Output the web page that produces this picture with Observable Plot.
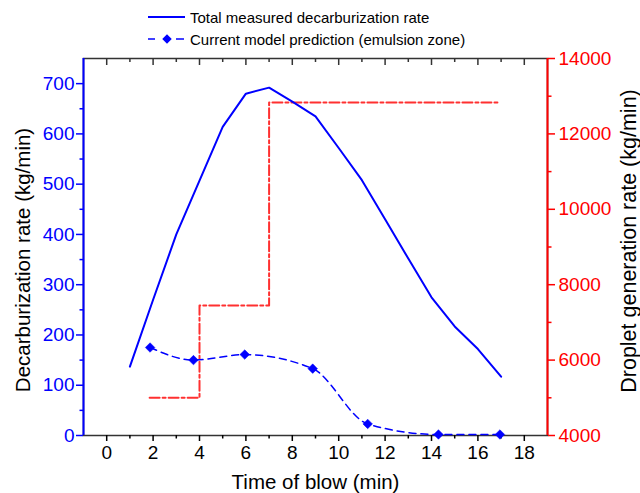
<!DOCTYPE html>
<html><head><meta charset="utf-8">
<script src="https://cdn.jsdelivr.net/npm/d3@7"></script>
<script src="https://cdn.jsdelivr.net/npm/@observablehq/plot@0.6"></script>
<style>
body{margin:0;background:#fff;font-family:"Liberation Sans",Arial,sans-serif;}
#wrap{position:relative;width:640px;height:493px;overflow:hidden;}
#legend{position:absolute;left:0;top:0;}
</style></head><body>
<div id="wrap"><div id="chart"></div><svg id="legend" width="640" height="55"></svg></div>
<script>
// ---- data ----
const measuredTime = [1,2,3,4,5,6,7,8,9,10,11,12,13,14,15,16,17];
const measuredRate = [137,270,400,507,614,680,692,664,635,572,508,430,352,275,217,172,117];
const modelTime = [1.87,3.74,5.95,8.88,11.25,14.3,16.95];
const modelRate = [175,150,161,133,23,2,2];
const dropletTime = [1.85,4,7,16.95];
const dropletRate = [5000,7450,12830,12830];

const xDomain = [-1,19];
const yLeftDomain = [0,750];
const yRightDomain = [4000,14000];
const xTicks = [0,2,4,6,8,10,12,14,16,18];
const xMinorTicks = [1,3,5,7,9,11,13,15,17];
const yLeftTicks = [0,100,200,300,400,500,600,700];
const yLeftMinorTicks = [50,150,250,350,450,550,650];
const yRightTicks = [4000,6000,8000,10000,12000,14000];
const yRightMinorTicks = [5000,7000,9000,11000,13000];

const xLabel = "Time of blow (min)";
const yLeftLabel = "Decarburization rate (kg/min)";
const yRightLabel = "Droplet generation rate (kg/min)";
const legendLabels = ["Total measured decarburization rate", "Current model prediction (emulsion zone)"];

const BLUE = "#0000ff", RED = "#ff0000", RED_LINE = "#ff3030", DARK = "#333333";
const FONT = "'Liberation Sans', Arial, sans-serif";
const W = 640, H = 493, ML = 83, MR = 93, MT = 58, MB = 58;
const frameH = H - MT - MB;

// right-axis values mapped onto the left scale
const toLeft = v => yLeftDomain[0] + (v - yRightDomain[0]) * (yLeftDomain[1] - yLeftDomain[0]) / (yRightDomain[1] - yRightDomain[0]);
const fromLeft = v => yRightDomain[0] + (v - yLeftDomain[0]) * (yRightDomain[1] - yRightDomain[0]) / (yLeftDomain[1] - yLeftDomain[0]);

const measured = measuredTime.map((t, i) => ({t, v: measuredRate[i]}));
const model = modelTime.map((t, i) => ({t, v: modelRate[i]}));
const droplet = dropletTime.map((t, i) => ({t, v: toLeft(dropletRate[i])}));

const chart = Plot.plot({
  width: W, height: H,
  marginLeft: ML, marginRight: MR, marginTop: MT, marginBottom: MB,
  style: {fontFamily: FONT, fontSize: "19px", background: "white", overflow: "visible"},
  x: {domain: xDomain},
  y: {domain: yLeftDomain},
  marks: [
    Plot.frame({stroke: DARK, strokeWidth: 1.5}),
    Plot.ruleX([xDomain[0]], {stroke: BLUE, strokeWidth: 2}),
    Plot.ruleX([xDomain[1]], {stroke: RED, strokeWidth: 2}),
    // bottom axis
    Plot.axisX({ticks: xTicks, tickSize: 6, tickPadding: 4, strokeWidth: 1.5, color: "#000", fontSize: 19, label: null}),
    Plot.axisX({ticks: xMinorTicks, tickSize: 3.5, strokeWidth: 1.5, color: "#000", text: null, label: null}),
    Plot.axisX({ticks: [], tickSize: 0, text: null, label: xLabel, labelArrow: "none", labelAnchor: "center", labelOffset: 53, fontSize: 20.5, color: "#000"}),
    // top mirror ticks (inward)
    Plot.tickX(xTicks, {x: d => d, stroke: DARK, strokeWidth: 1.5, insetBottom: frameH - 7}),
    Plot.tickX(xMinorTicks, {x: d => d, stroke: DARK, strokeWidth: 1.5, insetBottom: frameH - 4}),
    // left axis
    Plot.axisY({ticks: yLeftTicks, tickSize: 7, tickPadding: 2, strokeWidth: 1.5, color: BLUE, fontSize: 19, label: null}),
    Plot.axisY({ticks: yLeftMinorTicks, tickSize: 3.5, strokeWidth: 1.5, color: BLUE, text: null, label: null}),
    // right axis
    Plot.axisY({anchor: "right", ticks: yRightTicks.map(toLeft), tickFormat: d => String(Math.round(fromLeft(d))), tickSize: 7, tickPadding: 4, strokeWidth: 1.5, color: RED, fontSize: 19, label: null}),
    Plot.axisY({anchor: "right", ticks: yRightMinorTicks.map(toLeft), tickSize: 3.5, strokeWidth: 1.5, color: RED, text: null, label: null}),
    // axis titles
    Plot.text([yLeftLabel], {text: d => d, frameAnchor: "left", textAnchor: "middle", rotate: -90, lineAnchor: "top", dx: -68, dy: 13, fontSize: 20.5, fill: "#000"}),
    Plot.text([yRightLabel], {text: d => d, frameAnchor: "right", textAnchor: "middle", rotate: -90, lineAnchor: "bottom", dx: 88, dy: -6, fontSize: 21.5, fill: "#000"}),
    // data
    Plot.line(droplet, {x: "t", y: "v", curve: "step-after", stroke: RED_LINE, strokeWidth: 2, strokeDasharray: "10,3,3,3"}),
    Plot.line(measured, {x: "t", y: "v", stroke: BLUE, strokeWidth: 2}),
    Plot.line(model, {x: "t", y: "v", curve: "monotone-x", stroke: BLUE, strokeWidth: 1.5, strokeDasharray: "7,5"}),
    Plot.dot(model, {x: "t", y: "v", symbol: "diamond2", r: 4.3, fill: BLUE, stroke: BLUE, strokeWidth: 0.5})
  ]
});
document.getElementById("chart").appendChild(chart);

// ---- legend ----
const lg = d3.select("#legend");
const g1 = lg.append("g");
g1.append("line").attr("x1", 148).attr("x2", 185).attr("y1", 17).attr("y2", 17).attr("stroke", BLUE).attr("stroke-width", 2);
g1.append("text").attr("x", 190).attr("y", 23).attr("font-size", 15).attr("font-family", FONT).attr("fill", "#000").text(legendLabels[0]);
const g2 = lg.append("g");
g2.append("line").attr("x1", 148).attr("x2", 155).attr("y1", 39).attr("y2", 39).attr("stroke", BLUE).attr("stroke-width", 1.5);
g2.append("line").attr("x1", 176).attr("x2", 184).attr("y1", 39).attr("y2", 39).attr("stroke", BLUE).attr("stroke-width", 1.5);
g2.append("path").attr("transform", "translate(167,39)").attr("d", d3.symbol(d3.symbolDiamond2, 4.3 * 4.3 * Math.PI)()).attr("fill", BLUE);
g2.append("text").attr("x", 190).attr("y", 45).attr("font-size", 15).attr("font-family", FONT).attr("fill", "#000").text(legendLabels[1]);
</script>
</body></html>
